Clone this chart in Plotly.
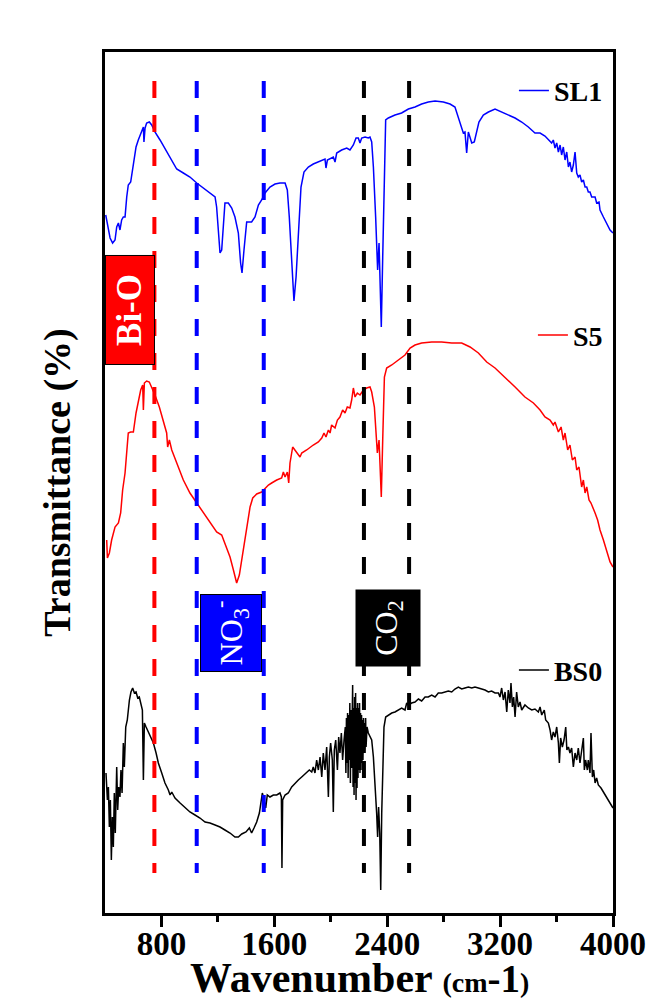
import plotly.graph_objects as go

# ---------------- data (wavenumber in cm-1, offset transmittance in a.u.) ----------------
sl1_wn = [405, 436, 454, 471, 483, 495, 506, 518, 530, 542, 554, 565, 582, 601, 620, 636, 660, 672, 676, 684,
          695, 714, 731, 754, 790, 837, 873, 908, 955, 1002, 1050, 1097, 1144, 1180, 1191, 1203, 1215, 1227, 1239, 1250,
          1274, 1298, 1321, 1345, 1361, 1371, 1385, 1395, 1404, 1439, 1463, 1487, 1510, 1534, 1569, 1605, 1640, 1676, 1692, 1706,
          1723, 1739, 1754, 1770, 1789, 1810, 1841, 1876, 1924, 1959, 1966, 1976, 2018, 2030, 2042, 2077, 2113, 2136, 2160, 2179,
          2195, 2207, 2219, 2243, 2266, 2278, 2290, 2302, 2318, 2332, 2342, 2349, 2358, 2368, 2380, 2389, 2408, 2455, 2502, 2550,
          2597, 2644, 2691, 2739, 2798, 2845, 2880, 2904, 2928, 2939, 2951, 2963, 2975, 2987, 2999, 3017, 3034, 3050, 3081, 3117,
          3164, 3211, 3258, 3306, 3353, 3400, 3447, 3483, 3518, 3542, 3565, 3577, 3589, 3601, 3613, 3625, 3636, 3648, 3660, 3672,
          3684, 3695, 3707, 3719, 3731, 3743, 3754, 3766, 3778, 3790, 3802, 3814, 3825, 3837, 3849, 3873, 3884, 3901, 3908, 3932,
          3955, 3979, 4000]
sl1_t = [69.8, 67.5, 67.0, 67.3, 68.6, 69.0, 68.3, 69.3, 69.6, 69.6, 71.6, 72.8, 73.1, 75.0, 76.6, 77.3, 78.3, 78.6, 77.1, 78.5,
         79.0, 79.1, 78.8, 78.1, 77.3, 76.1, 75.3, 74.4, 74.0, 73.6, 73.0, 72.5, 72.0, 71.6, 70.6, 68.3, 66.0, 66.3, 69.0, 71.0,
         71.0, 70.5, 69.6, 68.0, 65.0, 64.0, 66.3, 68.3, 69.1, 69.1, 69.6, 70.8, 71.3, 72.0, 72.6, 72.9, 73.0, 73.0, 72.3, 69.6,
         65.6, 61.2, 63.6, 68.3, 72.6, 74.1, 74.6, 74.9, 75.2, 75.4, 74.5, 75.3, 75.6, 75.1, 76.0, 76.3, 76.5, 76.3, 76.8, 77.5,
         77.5, 77.0, 77.5, 77.6, 77.5, 77.6, 77.1, 74.6, 69.6, 64.3, 67.0, 63.6, 58.6, 65.6, 75.6, 79.3, 79.5, 79.8, 80.0, 80.4,
         80.6, 80.9, 81.1, 81.2, 81.1, 80.9, 80.6, 79.5, 78.6, 78.0, 78.1, 76.0, 78.1, 77.6, 77.0, 77.1, 78.3, 79.1, 79.8, 80.1,
         80.4, 80.1, 79.8, 79.5, 79.1, 78.6, 78.0, 78.0, 77.7, 77.3, 77.0, 77.3, 76.5, 77.0, 76.1, 76.8, 75.8, 76.6, 75.3, 76.1,
         74.6, 75.1, 74.1, 74.8, 76.1, 74.0, 73.6, 73.8, 73.1, 73.3, 72.6, 72.6, 72.1, 72.1, 71.6, 71.6, 71.0, 71.1, 70.3, 69.6,
         69.0, 68.3, 68.0]

s5_wn = [412, 417, 431, 447, 471, 495, 511, 525, 542, 554, 565, 582, 601, 620, 636, 653, 667, 672, 679, 695,
         714, 731, 754, 785, 818, 837, 844, 856, 873, 908, 955, 1002, 1050, 1097, 1144, 1191, 1227, 1262, 1286, 1310,
         1333, 1352, 1376, 1404, 1428, 1447, 1475, 1510, 1534, 1558, 1581, 1617, 1652, 1664, 1676, 1692, 1702, 1711, 1730, 1758,
         1782, 1794, 1829, 1876, 1912, 1936, 1952, 1966, 1983, 1995, 2006, 2030, 2047, 2065, 2084, 2101, 2117, 2136, 2148, 2160,
         2172, 2188,
         2207, 2231, 2254, 2278, 2290, 2309, 2321, 2330, 2342, 2349, 2358, 2368, 2380, 2396, 2432, 2479, 2526, 2562, 2597, 2644,
         2715, 2786, 2857, 2928, 2987, 3046, 3105, 3164, 3235, 3306, 3376, 3436, 3483, 3518, 3554, 3577, 3589, 3613, 3632, 3648,
         3660, 3679, 3695, 3712, 3731, 3743, 3759, 3778, 3790, 3802, 3814, 3830, 3844, 3861, 3873, 3891, 3908, 3932, 3955, 3979,
         4000]
s5_t = [37.3, 35.5, 36.0, 37.3, 38.6, 39.0, 40.0, 42.3, 44.0, 46.0, 48.0, 48.1, 48.1, 50.0, 51.3, 52.3, 52.8, 50.3, 53.0, 53.2,
        53.1, 52.6, 51.8, 50.6, 49.0, 48.0, 46.6, 47.3, 46.3, 45.0, 43.3, 42.0, 41.0, 40.0, 39.0, 38.1, 37.8, 36.6, 35.6, 34.3,
        33.0, 33.8, 36.0, 38.6, 40.6, 41.5, 41.9, 42.1, 42.5, 42.8, 43.0, 43.3, 43.5, 44.1, 43.6, 44.1, 43.0, 45.0, 46.6, 46.1,
        45.6, 46.0, 46.3, 46.8, 47.1, 47.5, 48.0, 47.6, 48.3, 48.0, 48.8, 48.5, 49.3, 49.6, 50.3, 50.0, 50.6, 50.5, 51.3, 52.5,
        51.6, 52.0,
        51.8, 52.3, 52.5, 52.6, 52.1, 50.6, 48.0, 46.0, 47.3, 45.3, 41.6, 47.3, 53.6, 54.5, 54.8, 55.3, 55.8, 56.5, 56.8, 57.0,
        57.1, 57.1, 57.0, 57.0, 56.6, 56.0, 55.1, 54.5, 53.6, 52.6, 51.6, 51.0, 50.3, 49.6, 49.3, 48.8, 49.1, 48.1, 48.6, 47.3,
        48.0, 46.3, 46.8, 45.3, 45.6, 44.3, 44.6, 42.6, 43.3, 42.0, 42.6, 41.3, 41.0, 40.3, 40.0, 39.3, 38.3, 37.3, 36.3, 35.1,
        34.6]

bs0_wn = [407, 417, 424, 431, 438, 445, 452, 459, 466, 473, 483, 490, 497, 506, 513, 521, 530, 537, 547, 558,
          573, 584, 596, 608, 620, 632, 643, 655, 665, 672, 679, 691, 707, 724, 743, 762, 778, 802, 825, 849,
          861, 873, 896, 932, 967, 1002, 1038, 1073, 1109, 1144, 1180, 1215, 1250, 1286, 1321, 1345, 1369, 1399, 1423, 1439,
          1456, 1475, 1494, 1506, 1515, 1527, 1539, 1550, 1569, 1593, 1617, 1640, 1650, 1654, 1659, 1676, 1699, 1723, 1747, 1770,
          1794, 1810, 1829, 1848, 1865, 1876, 1888, 1900, 1912, 1924, 1936, 1947, 1959, 1971, 1983, 1990, 1999, 2011, 2018, 2025,
          2035, 2047, 2056, 2065, 2075, 2084, 2094,
          2103, 2107, 2111, 2115, 2119, 2123, 2127, 2131, 2135, 2139, 2143, 2147, 2151, 2155, 2158, 2162, 2165, 2169, 2172, 2176,
          2179, 2183, 2186, 2190, 2193, 2197, 2200, 2204, 2207, 2211, 2214, 2218, 2221, 2225, 2228, 2232, 2236, 2240, 2243, 2247,
          2250, 2257, 2266, 2278, 2290,
          2302, 2313, 2325, 2332, 2339, 2347, 2354, 2361, 2368,
          2377, 2389, 2408, 2432, 2455, 2479, 2502, 2526, 2538, 2550, 2573, 2597, 2621, 2644, 2668, 2691, 2715, 2739, 2762, 2786,
          2810, 2833, 2857, 2880, 2904, 2928, 2951, 2975, 2999, 3022, 3046, 3069, 3093, 3117, 3140, 3164, 3188, 3199, 3211, 3223,
          3235, 3247, 3258, 3270, 3277, 3287, 3296, 3306, 3317, 3329, 3341, 3353, 3376, 3400, 3424, 3447, 3471, 3483, 3495, 3513,
          3523, 3542, 3554, 3565, 3577, 3589, 3601, 3613, 3620, 3629, 3641, 3653, 3665, 3673, 3684, 3695, 3707, 3719, 3731, 3743,
          3754, 3766, 3778, 3790, 3797, 3806, 3818, 3825, 3837, 3844, 3854, 3863, 3873, 3884, 3896, 3915, 3932, 3955, 3979, 4000]
bs0_t = [14.0, 11.3, 12.6, 8.6, 11.3, 5.3, 9.6, 6.6, 12.0, 8.0, 14.6, 10.3, 12.6, 11.6, 14.3, 12.0, 17.0, 14.6, 18.6, 19.3,
         21.3, 22.1, 22.5, 22.0, 22.1, 21.5, 21.6, 21.0, 20.3, 13.3, 19.0, 18.6, 18.1, 17.6, 17.0, 16.0, 15.0, 14.0, 13.0, 12.3,
         11.8, 12.1, 11.5, 11.0, 10.5, 10.1, 9.8, 9.5, 9.1, 9.0, 8.8, 8.6, 8.3, 8.0, 7.6, 7.6, 7.9, 8.1, 8.5, 8.0,
         8.5, 9.1, 10.0, 11.3, 12.0, 11.3, 10.5, 11.8, 11.6, 11.8, 11.8, 12.0, 11.6, 4.5, 11.3, 11.8, 12.0, 12.6, 13.0, 13.3,
         13.6, 13.8, 14.0, 14.3, 14.1, 14.6, 14.0, 15.3, 14.3, 15.6, 13.6, 16.0, 14.3, 16.6, 11.6, 15.6, 17.0, 15.3, 10.1, 16.3,
         17.3, 14.3, 17.6, 16.0, 18.0, 15.3, 17.3,
         18.6, 14.0, 19.5, 15.0, 20.0, 13.5, 19.8, 15.3, 21.0, 13.0, 20.3, 14.5, 21.5, 22.8, 12.6, 20.5, 11.8, 21.6, 13.0, 22.0,
         11.3, 20.5, 12.5, 21.0, 13.5, 20.5, 14.3, 21.0, 14.0, 20.0, 14.3, 19.8, 15.0, 19.3, 15.3, 19.5, 16.0, 19.0, 16.0, 19.5,
         16.6, 18.6, 18.0, 17.6, 17.3,
         15.6, 13.3, 10.0, 7.6, 10.6, 8.0, 2.3, 10.0, 15.3,
         18.6, 19.6, 19.8, 20.0, 20.1, 20.3, 20.5, 20.3, 21.0, 20.8, 21.0, 21.1, 21.4, 21.2, 21.6, 21.6, 21.8, 21.6, 22.0, 22.0,
         22.1, 22.2, 22.1, 22.4, 22.6, 22.4, 22.5, 22.6, 22.5, 22.6, 22.5, 22.4, 22.3, 22.1, 22.2, 22.0, 22.0, 21.6, 22.5, 21.3,
         22.1, 20.1, 22.3, 21.0, 23.0, 20.6, 21.6, 19.6, 22.1, 20.6, 21.1, 20.3, 20.8, 20.5, 20.3, 20.4, 20.1, 20.6, 19.8, 20.3,
         19.3, 19.0, 18.3, 17.3, 18.1, 17.6, 18.6, 17.0, 15.0, 17.5, 16.6, 17.3, 18.6, 16.3, 16.6, 16.0, 16.5, 14.6, 16.0, 15.3,
         16.5, 15.0, 16.1, 17.5, 14.3, 15.3, 14.3, 15.3, 14.0, 18.0, 13.6, 14.3, 13.0, 13.5, 12.8, 12.5, 12.1, 11.6, 11.0, 10.5]

# band marker lines (cm-1) and their labels
band_wn = [750, 1050, 1525, 2235, 2555]
band_colors = ["#ff0000", "#0000ff", "#0000ff", "#000000", "#000000"]
band_top, band_bottom = 83.2, 4.0

label_text = ["<b>Bi-O</b>", "NO<sub>3</sub><sup>-</sup>", "CO<sub>2</sub>"]
label_wn = [577, 1293, 2402]
label_t = [60.3, 28.0, 28.5]
label_bg = ["#ff0000", "#0000ff", "#000000"]
label_w = [108, 76, 75]
label_h = [48, 60, 63]
label_size = [35, 32, 32]

tick_vals = [800, 1600, 2400, 3200, 4000]
tick_text = ["800", "1600", "2400", "3200", "4000"]
minor_vals = [1200, 2000, 2800, 3600]

x_title = ("Wavenumber <span style='font-size:28px'>(cm</span>"
           "<span style='font-size:39px'>-1</span><span style='font-size:28px'>)</span>")
y_title = "Transmittance (%)"

serif = "Liberation Serif, Times New Roman, serif"

fig = go.Figure()
fig.add_trace(go.Scatter(x=sl1_wn, y=sl1_t, mode="lines", name="SL1", showlegend=True,
                         line=dict(color="#0000ff", width=1.5), legend="legend"))
fig.add_trace(go.Scatter(x=s5_wn, y=s5_t, mode="lines", name="S5", showlegend=True,
                         line=dict(color="#ff0000", width=1.5), legend="legend2"))
fig.add_trace(go.Scatter(x=bs0_wn, y=bs0_t, mode="lines", name="BS0", showlegend=True,
                         line=dict(color="#000000", width=1.5), legend="legend3"))

for wn, c in zip(band_wn, band_colors):
    fig.add_shape(type="line", xref="x", yref="y", x0=wn, x1=wn, y0=band_top, y1=band_bottom,
                  line=dict(color=c, width=4, dash="17px,17px"))

for txt, wn, t, bg, w, h, fs in zip(label_text, label_wn, label_t, label_bg, label_w, label_h, label_size):
    fig.add_annotation(x=wn, y=t, xref="x", yref="y", text=txt, showarrow=False, textangle=-90,
                       bgcolor=bg, bordercolor="black", borderwidth=1, borderpad=0,
                       width=w, height=h, font=dict(family=serif, size=fs, color="white"))

# x-axis title placed below the tick labels
fig.add_annotation(x=0.5, y=-0.0755, xref="paper", yref="paper", text=x_title, showarrow=False,
                   xanchor="center", yanchor="middle", borderpad=0,
                   font=dict(family=serif, size=42, color="black", weight="bold"))

legend_common = dict(xanchor="right", yanchor="middle", bgcolor="rgba(0,0,0,0)",
                     font=dict(family=serif, size=28, color="black", weight="bold"))
fig.update_layout(
    width=649, height=998,
    margin=dict(l=105, r=36, t=52, b=85),
    plot_bgcolor="white", paper_bgcolor="white",
    font=dict(family=serif, color="black"),
    showlegend=True,
    legend=dict(x=0.99, y=0.955, **legend_common),
    legend2=dict(x=0.99, y=0.671, **legend_common),
    legend3=dict(x=0.99, y=0.282, **legend_common),
)
fig.update_xaxes(
    range=[400, 4000], tickvals=tick_vals, ticktext=tick_text,
    ticks="outside", ticklen=11, tickwidth=3, tickcolor="black",
    showline=True, linewidth=3, linecolor="black", mirror=True,
    showgrid=False, zeroline=False, automargin=False,
    ticklabelstandoff=-12,
    tickfont=dict(family=serif, size=33, weight="bold"),
    minor=dict(tickvals=minor_vals, ticks="outside", ticklen=6, tickwidth=3, tickcolor="black"),
)
fig.update_yaxes(
    range=[0, 86.1], showticklabels=False, ticks="",
    showline=True, linewidth=3, linecolor="black", mirror=True,
    showgrid=False, zeroline=False, automargin=False,
    title=dict(text=y_title, font=dict(family=serif, size=38, weight="bold"), standoff=20),
)

fig.write_html("out.html")
